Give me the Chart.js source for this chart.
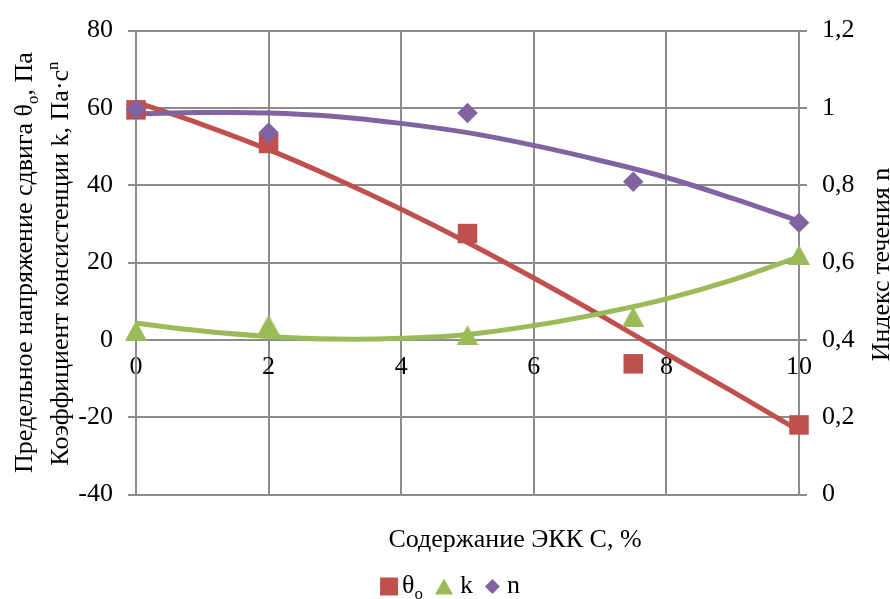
<!DOCTYPE html>
<html><head><meta charset="utf-8">
<script src="https://cdn.jsdelivr.net/npm/chart.js@4.4.1/dist/chart.umd.min.js"></script>
<style>html,body{margin:0;padding:0;background:#fff;}</style>
</head><body>
<canvas id="c" width="890" height="599"></canvas>
<script>
// ---- data ----
const xValues = [0, 2, 5, 7.5, 10];
const theta0 = [59.5, 50.8, 27.5, -6.2, -22.0];
const kCoef = [2.4, 3.9, 1.2, 6.0, 22.0];
const nIndex = [0.996, 0.936, 0.987, 0.809, 0.703];

const trendX = [0, 1, 2, 3, 4, 5, 6, 7, 8, 9, 10];
const thetaTrend = [61.5, 55.7, 49.2, 41.8, 33.8, 25.2, 16.0, 6.4, -3.6, -13.4, -23.5];
const kTrend = [4.3, 2.3, 0.9, 0.2, 0.4, 1.4, 3.7, 6.8, 10.6, 15.5, 21.5];
const nTrend = [0.985, 0.988, 0.987, 0.978, 0.960, 0.936, 0.903, 0.864, 0.820, 0.766, 0.707];

const xTicks = [0, 2, 4, 6, 8, 10];
const leftTicks = [-40, -20, 0, 20, 40, 60, 80];
const rightTicks = [0, 0.2, 0.4, 0.6, 0.8, 1, 1.2];
const rightTickLabels = ['0', '0,2', '0,4', '0,6', '0,8', '1', '1,2'];

const seriesLabels = [[['θ', ''], ['o', 'sub']], [['k', '']], [['n', '']]];
const xTitle = [['Содержание ЭКК С, %', '']];
const leftTitle1 = [['Предельное напряжение сдвига θ', ''], ['o', 'sub'], [', Па', '']];
const leftTitle2 = [['Коэффициент консистенции k, Па·с', ''], ['n', 'sup']];
const rightTitle = [['Индекс течения n', '']];

// ---- styles ----
const RED = '#C0504D', GREEN = '#9BBB59', PURPLE = '#8064A2';
const GRID = '#8c8c8c';
const FONT = '"Liberation Serif", "Times New Roman", serif';
const FS = 26;

function triCanvas(color, w, h) {
  const c = document.createElement('canvas');
  c.width = w; c.height = h;
  const g = c.getContext('2d');
  g.fillStyle = color;
  g.beginPath(); g.moveTo(w / 2, 0); g.lineTo(w, h); g.lineTo(0, h); g.closePath(); g.fill();
  return c;
}
const triMarker = triCanvas(GREEN, 22, 20);

function pts(xs, ys) { return xs.map((x, i) => ({x: x, y: ys[i]})); }

function richWidth(ctx, segs, size) {
  let w = 0;
  segs.forEach(s => {
    ctx.font = (s[1] ? size * 0.65 : size) + 'px ' + FONT;
    w += ctx.measureText(s[0]).width;
  });
  return w;
}
function drawRich(ctx, segs, x, y, rot, align, size) {
  ctx.save();
  ctx.translate(x, y);
  ctx.rotate(rot);
  ctx.fillStyle = '#000';
  ctx.textBaseline = 'alphabetic';
  ctx.textAlign = 'left';
  const w = richWidth(ctx, segs, size);
  let cx = align === 'center' ? -w / 2 : 0;
  segs.forEach(s => {
    ctx.font = (s[1] ? size * 0.65 : size) + 'px ' + FONT;
    const dy = s[1] === 'sub' ? size * 0.22 : (s[1] === 'sup' ? -size * 0.38 : 0);
    ctx.fillText(s[0], cx, dy);
    cx += ctx.measureText(s[0]).width;
  });
  ctx.restore();
}

const textPlugin = {
  id: 'texts',
  afterDraw(chart) {
    const ctx = chart.ctx;
    const ca = chart.chartArea;
    const cy = (ca.top + ca.bottom) / 2;
    drawRich(ctx, leftTitle1, 32, cy, -Math.PI / 2, 'center', FS);
    drawRich(ctx, leftTitle2, 68, cy + 1, -Math.PI / 2, 'center', FS);
    drawRich(ctx, rightTitle, 889, cy + 2, -Math.PI / 2, 'center', FS);
    drawRich(ctx, xTitle, 515, 547, 0, 'center', FS);

    // legend
    const markW = [18, 18, 15];
    const gapAfter = [4, 7, 7];
    const itemGap = 12;
    const widths = seriesLabels.map((l, i) => markW[i] + gapAfter[i] + richWidth(ctx, l, FS));
    const total = widths.reduce((a, b) => a + b, 0) + itemGap * (widths.length - 1);
    let lx = 450 - total / 2;
    const my = 586.5, base = 593;
    seriesLabels.forEach((l, i) => {
      ctx.save();
      if (i === 0) { ctx.fillStyle = RED; ctx.fillRect(lx, my - 9, 18, 18); }
      if (i === 1) { ctx.fillStyle = GREEN; ctx.beginPath(); ctx.moveTo(lx + 9, my - 8); ctx.lineTo(lx + 18, my + 8); ctx.lineTo(lx, my + 8); ctx.closePath(); ctx.fill(); }
      if (i === 2) { ctx.fillStyle = PURPLE; ctx.beginPath(); ctx.moveTo(lx + 7.5, my - 7.5); ctx.lineTo(lx + 15, my); ctx.lineTo(lx + 7.5, my + 7.5); ctx.lineTo(lx, my); ctx.closePath(); ctx.fill(); }
      ctx.restore();
      drawRich(ctx, l, lx + markW[i] + gapAfter[i], base, 0, 'left', FS);
      lx += widths[i] + itemGap;
    });
  }
};

const tickFont = {family: FONT, size: FS};

new Chart(document.getElementById('c'), {
  type: 'scatter',
  data: {
    datasets: [
      {label: 'θo', data: pts(xValues, theta0), yAxisID: 'y', pointStyle: 'rect', pointRadius: 13.8, pointHoverRadius: 13.8, backgroundColor: RED, borderWidth: 0, showLine: false, order: 2, clip: false},
      {label: 'k', data: pts(xValues, kCoef), yAxisID: 'y', pointStyle: triMarker, pointRadius: 10, backgroundColor: GREEN, borderWidth: 0, showLine: false, order: 1, clip: false},
      {label: 'n', data: pts(xValues, nIndex), yAxisID: 'y1', pointStyle: 'rectRot', pointRadius: 10.3, pointHoverRadius: 10.3, backgroundColor: PURPLE, borderWidth: 0, showLine: false, order: 0, clip: false},
      {label: 'trend θo', data: pts(trendX, thetaTrend), yAxisID: 'y', showLine: true, pointRadius: 0, borderColor: RED, borderWidth: 5, tension: 0.4, order: 5, clip: false},
      {label: 'trend k', data: pts(trendX, kTrend), yAxisID: 'y', showLine: true, pointRadius: 0, borderColor: GREEN, borderWidth: 5, tension: 0.4, order: 4, clip: false},
      {label: 'trend n', data: pts(trendX, nTrend), yAxisID: 'y1', showLine: true, pointRadius: 0, borderColor: PURPLE, borderWidth: 5, tension: 0.4, order: 3, clip: false}
    ]
  },
  options: {
    responsive: false,
    animation: false,
    devicePixelRatio: 1,
    layout: {padding: {left: 0, right: 0, top: 27, bottom: 104.5}},
    plugins: {legend: {display: false}, tooltip: {enabled: false}},
    scales: {
      x: {
        type: 'linear', min: 0, max: 10,
        position: {y: 0},
        afterBuildTicks: s => { s.ticks = xTicks.map(v => ({value: v})); },
        ticks: {font: tickFont, color: '#000', padding: 12, maxRotation: 0},
        grid: {color: GRID, lineWidth: 2, drawTicks: false},
        border: {color: GRID, width: 2}
      },
      y: {
        type: 'linear', position: 'left', min: -40, max: 80,
        afterBuildTicks: s => { s.ticks = leftTicks.map(v => ({value: v})); },
        afterFit: s => { s.width = 136; },
        ticks: {font: tickFont, color: '#000', padding: 15, callback: (v) => String(v)},
        grid: {color: GRID, lineWidth: 2, tickLength: 8},
        border: {color: GRID, width: 2}
      },
      y1: {
        type: 'linear', position: 'right', min: 0, max: 1.2,
        afterBuildTicks: s => { s.ticks = rightTicks.map(v => ({value: v})); },
        afterFit: s => { s.width = 91; },
        ticks: {font: tickFont, color: '#000', padding: 15, callback: (v, i) => rightTickLabels[i]},
        grid: {color: GRID, lineWidth: 2, tickLength: 8, drawOnChartArea: false},
        border: {color: GRID, width: 2}
      }
    }
  },
  plugins: [textPlugin]
});
</script>
</body></html>
